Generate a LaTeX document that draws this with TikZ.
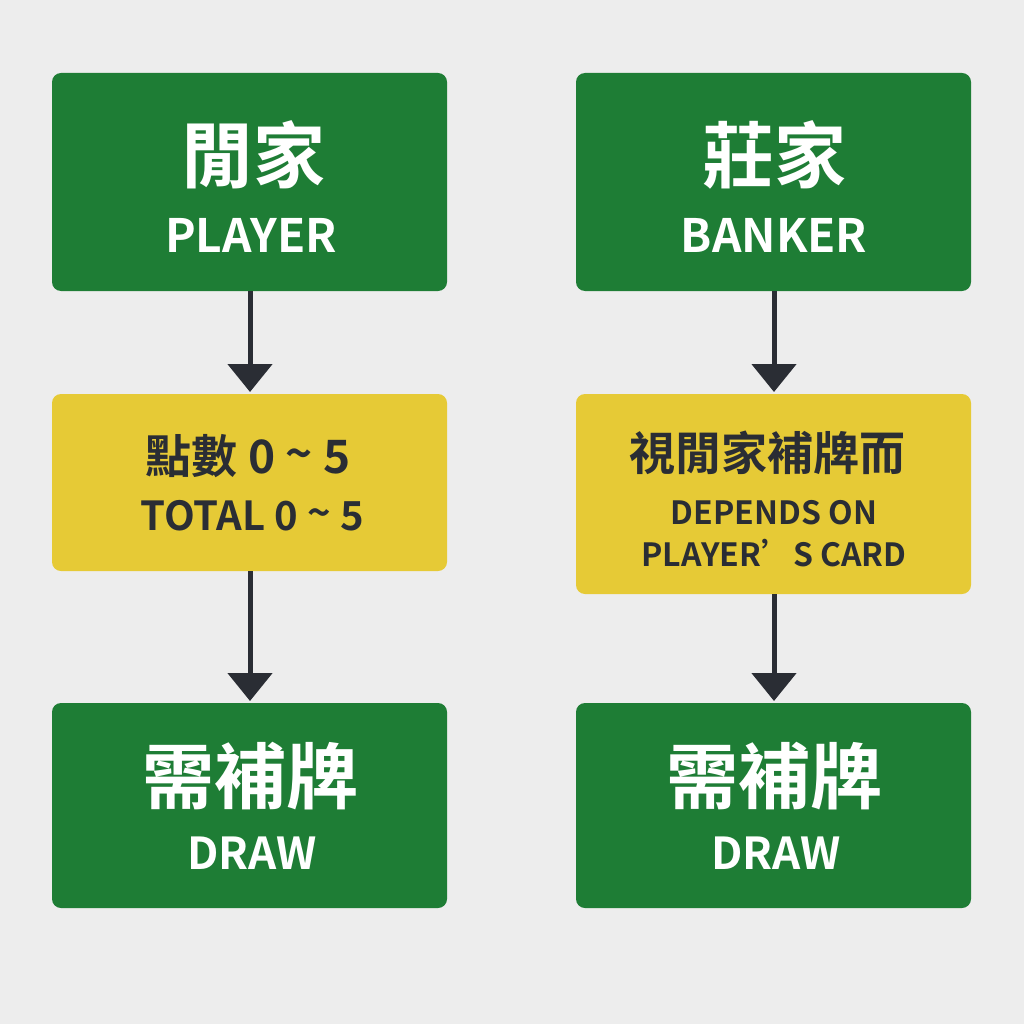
\documentclass[tikz,border=0pt]{standalone}
\usepackage{fontspec}
\setmainfont{Noto Sans CJK TC}[BoldFont={* Bold}]
\usetikzlibrary{arrows.meta}
\definecolor{bg}{HTML}{EDEDED}
\definecolor{gr}{HTML}{1E7D35}
\definecolor{ye}{HTML}{E6CA36}
\definecolor{dk}{HTML}{2A2D34}
\tikzset{
 gbox/.style={fill=gr,rounded corners=9pt,text=white,align=center,font=\bfseries},
 ybox/.style={fill=ye,rounded corners=9pt,text=dk,align=center,font=\bfseries},
 arr/.style={draw=dk,line width=5pt,-{Triangle[length=28pt,width=44pt]}}
}
\begin{document}
\begin{tikzpicture}[x=1pt,y=-1pt]
\fill[bg] (0,0) rectangle (1024,1024);
\useasboundingbox (0,0) rectangle (1024,1024);
% boxes
\fill[gr,rounded corners=9pt] (52,73) rectangle (447,291);
\fill[gr,rounded corners=9pt] (576,73) rectangle (971,291);
\fill[ye,rounded corners=9pt] (52,394) rectangle (447,571);
\fill[ye,rounded corners=9pt] (576,394) rectangle (971,594);
\fill[gr,rounded corners=9pt] (52,703) rectangle (447,908);
\fill[gr,rounded corners=9pt] (576,703) rectangle (971,908);
\coordinate (a1) at (250,291); \coordinate (a2) at (250,392);
\coordinate (b1) at (250,571); \coordinate (b2) at (250,701);
\coordinate (c1) at (774,291); \coordinate (c2) at (774,392);
\coordinate (d1) at (774,594); \coordinate (d2) at (774,701);
\draw[arr] (a1) -- (a2); \draw[arr] (b1) -- (b2);
\draw[arr] (c1) -- (c2); \draw[arr] (d1) -- (d2);
% texts
\node[text=white,font=\bfseries\fontsize{72}{72}\selectfont] (t1) at (253,155) {閒家};
\node[text=white,font=\bfseries\fontsize{46}{46}\selectfont] (t2) at (251,235) {PLAYER};
\node[text=white,font=\bfseries\fontsize{72}{72}\selectfont] (t3) at (774,155) {莊家};
\node[text=white,font=\bfseries\fontsize{46}{46}\selectfont] (t4) at (774,235) {BANKER};
\node[text=dk,font=\bfseries\fontsize{46}{46}\selectfont] (t5) at (248,456) {點數 0 \raisebox{3pt}{\textasciitilde} 5};
\node[text=dk,font=\bfseries\fontsize{40}{40}\selectfont] (t6) at (252,516) {TOTAL 0 \raisebox{3pt}{\textasciitilde} 5};
\node[text=dk,font=\bfseries\fontsize{46}{46}\selectfont] (t7) at (767,453) {視閒家補牌而};
\node[text=dk,font=\bfseries\fontsize{32}{32}\selectfont] (t8) at (774,513) {DEPENDS ON};
\node[text=dk,font=\bfseries\fontsize{32}{32}\selectfont] (t9) at (774,553) {PLAYER’S CARD};
\node[text=white,font=\bfseries\fontsize{72}{72}\selectfont] (t10) at (250,776) {需補牌};
\node[text=white,font=\bfseries\fontsize{44}{44}\selectfont] (t11) at (252,853) {DRAW};
\node[text=white,font=\bfseries\fontsize{72}{72}\selectfont] (t12) at (774,776) {需補牌};
\node[text=white,font=\bfseries\fontsize{44}{44}\selectfont] (t13) at (776,853) {DRAW};
\end{tikzpicture}
\end{document}
